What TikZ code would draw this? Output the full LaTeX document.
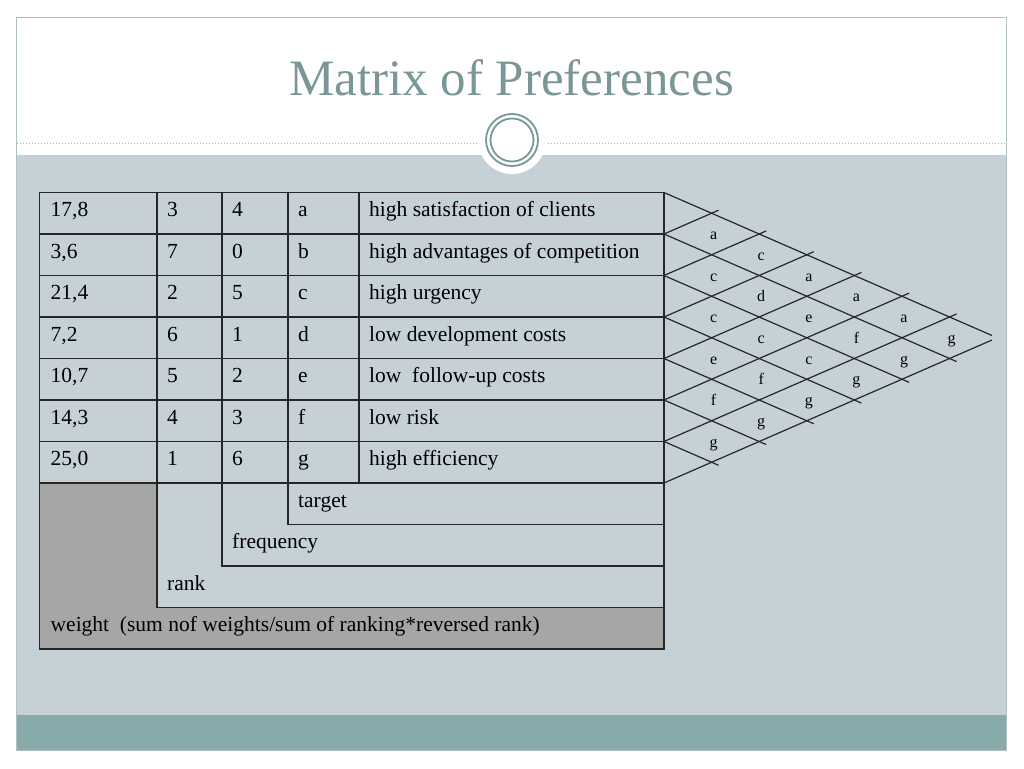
\documentclass[tikz,border=0pt]{standalone}
\usepackage{fontspec}
\setmainfont{Liberation Serif}
\usepackage{xcolor}
\usepackage{tikz}
\usetikzlibrary{positioning, calc}
\definecolor{slidegrey}{RGB}{198,209,215}
\definecolor{slideteal}{RGB}{135,170,170}
\definecolor{titleteal}{RGB}{122,150,150}
\definecolor{cellgrey}{RGB}{166,166,166}
\definecolor{linedark}{RGB}{38,38,38}

\begin{document}
\begin{tikzpicture}[x=1pt, y=-1pt,
	cell/.style={anchor=base west, inner sep=0pt, font=\fontsize{21.5}{24}\selectfont},
	pair/.style={anchor=base, inner sep=0pt, font=\fontsize{16}{19}\selectfont},
	grid/.style={draw=linedark, line width=1.6pt, line cap=rect},
	tri/.style={draw=linedark, line width=1.2pt}]
\useasboundingbox (0,0) rectangle (1024,768);

% slide
\fill[white] (0,0) rectangle (1024,768);
\fill[slidegrey] (17,155) rectangle (1006,715);
\fill[slideteal] (17,715) rectangle (1006,750);
\draw[titleteal!60, line width=0.8pt] (16.5,17) rectangle (1006.5,750);
\draw[titleteal!70, dotted, line width=1pt] (17,143) -- (1006,143);
\fill[white] (512,140) circle (34pt);
\draw[titleteal, line width=1.8pt] (512,140) circle (26pt);
\draw[titleteal, line width=1.8pt] (512,140) circle (21.5pt);
\node[font=\fontsize{51}{60}\selectfont, text=titleteal, anchor=base, inner sep=0pt] (title) at (511.5,95) {Matrix of Preferences};

% table
\fill[cellgrey] (39.5,483) rectangle (156.7,649);
\fill[cellgrey] (39.5,607.5) rectangle (664,649);

\foreach \r in {0,...,7}
	\draw[grid] (39.5,{192.5+41.5*\r}) -- (664,{192.5+41.5*\r});
\draw[grid] (288,524.5) -- (664,524.5);
\draw[grid] (222,566) -- (664,566);
\draw[grid] (156.7,607.5) -- (664,607.5);
\draw[grid] (39.5,649) -- (664,649);

\draw[grid] (39.5,192.5) -- (39.5,649);
\draw[grid] (156.7,192.5) -- (156.7,607.5);
\draw[grid] (222,192.5) -- (222,566);
\draw[grid] (288,192.5) -- (288,524.5);
\draw[grid] (359,192.5) -- (359,483);
\draw[grid] (664,192.5) -- (664,649);

\foreach \w/\r/\f/\l/\t [count=\i from 0] in {{17,8}/3/4/a/{high satisfaction of clients}, {3,6}/7/0/b/{high advantages of competition}, {21,4}/2/5/c/{high urgency}, {7,2}/6/1/d/{low development costs}, {10,7}/5/2/e/{low\ \ follow-up costs}, {14,3}/4/3/f/{low risk}, {25,0}/1/6/g/{high efficiency}}
{
	\node[cell] (w\i) at (50.5,{216.5+41.5*\i}) {\w};
	\node[cell] (r\i) at (167,{216.5+41.5*\i}) {\r};
	\node[cell] (f\i) at (232,{216.5+41.5*\i}) {\f};
	\node[cell] (l\i) at (298,{216.5+41.5*\i}) {\l};
	\node[cell] (t\i) at (369,{216.5+41.5*\i}) {\t};
}

\node[cell] (target) at (298,507) {target};
\node[cell] (freq) at (232,548.5) {frequency};
\node[cell] (rank) at (167,590) {rank};
\node[cell] (weight) at (50.5,631.5) {weight\ \ (sum nof weights/sum of ranking*reversed rank)};

% pairwise triangle
\foreach \k in {0,...,6}
{
	\pgfmathsetmacro\len{min((7-\k)*47.6+7,328)}
	\draw[tri] (664,{192.5+41.5*\k}) -- ++(\len,{0.436*\len});
}
\foreach \k in {1,...,7}
{
	\pgfmathsetmacro\len{min(\k*47.6+7,328)}
	\draw[tri] (664,{192.5+41.5*\k}) -- ++(\len,{-0.436*\len});
}

\foreach \i/\j/\w in {0/1/a,0/2/c,0/3/a,0/4/a,0/5/a,0/6/g,1/2/c,1/3/d,1/4/e,1/5/f,1/6/g,2/3/c,2/4/c,2/5/c,2/6/g,3/4/e,3/5/f,3/6/g,4/5/f,4/6/g,5/6/g}
	\node[pair] (p\i\j) at ({666+(\j-\i)*47.6},{198+20.75*(\i+\j+1)}) {\w};

\end{tikzpicture}
\end{document}
